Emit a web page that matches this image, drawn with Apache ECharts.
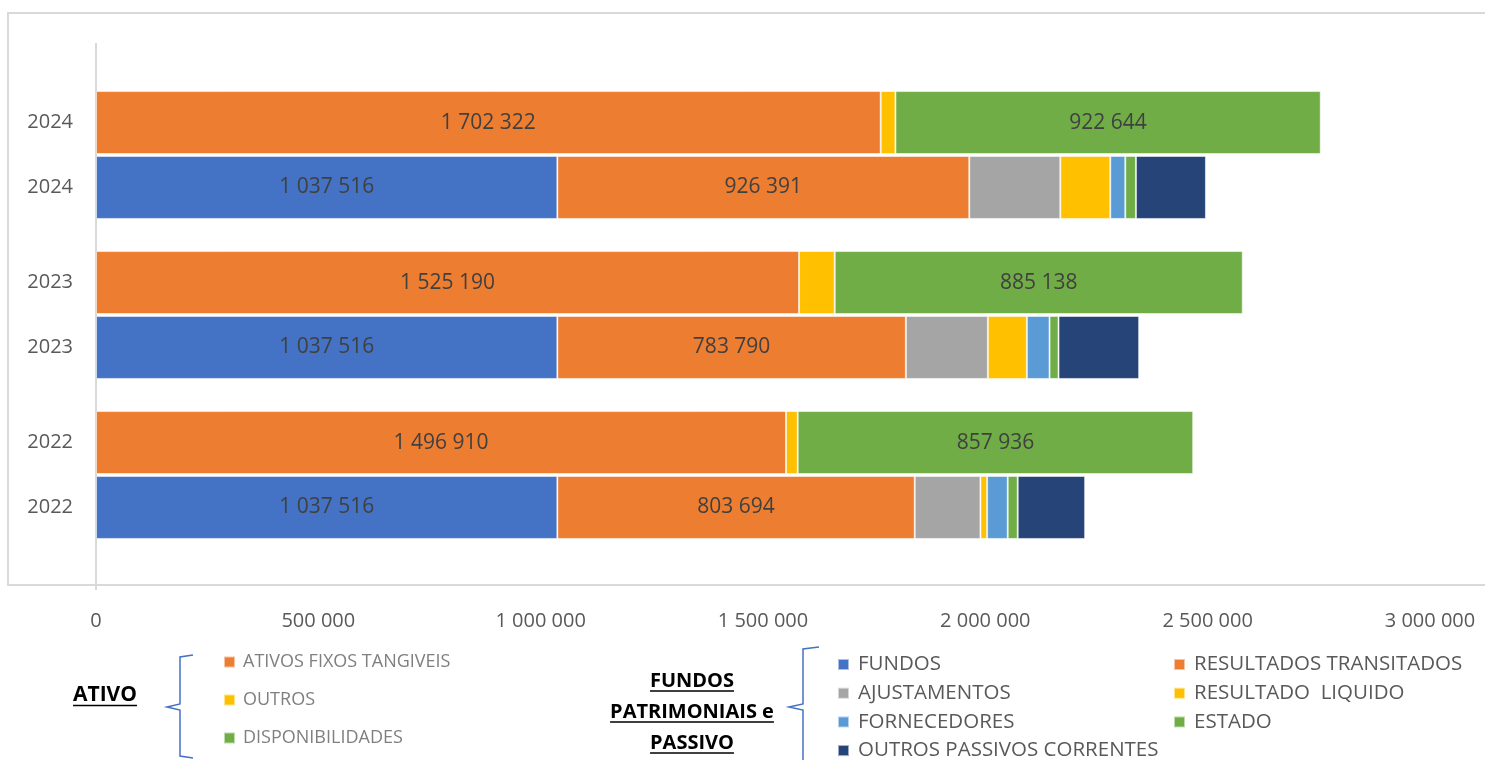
<!DOCTYPE html>
<html>
<head>
<meta charset="utf-8">
<script src="https://cdn.jsdelivr.net/npm/echarts@6/dist/echarts.min.js"></script>
<style>
  html, body { margin: 0; padding: 0; background: #ffffff; }
  #chart { width: 1485px; height: 760px; }
</style>
</head>
<body>
<div id="chart"></div>
<script>
// Years, one band per year (ATIVO bar above, FUNDOS/PASSIVO bar below)
const years = ['2024', '2023', '2022'];

// ATIVO
const ativosFixosTangiveis = [1702322, 1525190, 1496910];
const outros = [32000, 77400, 25400];
const disponibilidades = [922644, 885138, 857936];

// FUNDOS PATRIMONIAIS e PASSIVO
const fundos = [1037516, 1037516, 1037516];
const resultadosTransitados = [926391, 783790, 803694];
const ajustamentos = [204700, 184400, 147800];
const resultadoLiquido = [112400, 87700, 15000];
const fornecedores = [33700, 51000, 46300];
const estado = [24000, 20200, 22500];
const outrosPassivosCorrentes = [157400, 181300, 151600];

// Value axis range (primary) and the hidden secondary axis used by ATIVO
const axisMin = 0;
const axisMax = 3000000;
const axisStep = 500000;
const secondaryMax = 2894000;

const FONT = '"Open Sans", "DejaVu Sans", sans-serif';
const COLORS = {
  blue: '#4472C4', orange: '#ED7D31', grey: '#A5A5A5', yellow: '#FFC000',
  lightBlue: '#5B9BD5', green: '#70AD47', navy: '#264478'
};

function fmt(v) {
  return String(Math.round(v)).replace(/\B(?=(\d{3})+(?!\d))/g, ' ');
}

function barSeries(name, data, color, stack, xAxisIndex, withLabel) {
  return {
    name: name,
    type: 'bar',
    stack: stack,
    xAxisIndex: xAxisIndex,
    yAxisIndex: 0,
    data: data,
    barWidth: 63,
    barGap: '3%',
    itemStyle: { color: color, borderColor: 'rgba(255,255,255,0.55)', borderWidth: 1 },
    label: withLabel ? {
      show: true, position: 'inside', color: '#404040', fontSize: 21,
      fontFamily: FONT, formatter: p => fmt(p.value)
    } : { show: false },
    emphasis: { disabled: true },
    animation: false
  };
}

const series = [
  barSeries('ATIVOS FIXOS TANGIVEIS', ativosFixosTangiveis, COLORS.orange, 'ativo', 1, true),
  barSeries('OUTROS', outros, COLORS.yellow, 'ativo', 1, false),
  barSeries('DISPONIBILIDADES', disponibilidades, COLORS.green, 'ativo', 1, true),
  barSeries('FUNDOS', fundos, COLORS.blue, 'passivo', 0, true),
  barSeries('RESULTADOS TRANSITADOS', resultadosTransitados, COLORS.orange, 'passivo', 0, true),
  barSeries('AJUSTAMENTOS', ajustamentos, COLORS.grey, 'passivo', 0, false),
  barSeries('RESULTADO  LIQUIDO', resultadoLiquido, COLORS.yellow, 'passivo', 0, false),
  barSeries('FORNECEDORES', fornecedores, COLORS.lightBlue, 'passivo', 0, false),
  barSeries('ESTADO', estado, COLORS.green, 'passivo', 0, false),
  barSeries('OUTROS PASSIVOS CORRENTES', outrosPassivosCorrentes, COLORS.navy, 'passivo', 0, false)
];

// text width helper for the underlines of the bold captions
const measureCtx = document.createElement('canvas').getContext('2d');
function textWidth(txt, font) { measureCtx.font = font; return measureCtx.measureText(txt).width; }

function underlinedCaption(lines, cx, firstY, lineStep, size) {
  const font = 'bold ' + size + 'px ' + FONT;
  const els = [];
  lines.forEach((t, i) => {
    const y = firstY + i * lineStep;
    const w = textWidth(t, font);
    els.push({
      type: 'text', x: cx, y: y,
      style: { text: t, font: font, fill: '#000000', align: 'center', verticalAlign: 'middle' }
    });
    els.push({
      type: 'line', shape: { x1: cx - w / 2, y1: y + size * 0.5, x2: cx + w / 2, y2: y + size * 0.5 },
      style: { stroke: '#000000', lineWidth: 1.6 }
    });
  });
  return els;
}

function brace(x, top, tipY, bottom, tipX, hook) {
  return {
    type: 'polyline',
    shape: { points: [[x + hook, top], [x, top + 2], [x, tipY - 3], [tipX, tipY], [x, tipY + 3], [x, bottom - 2], [x + hook, bottom]] },
    style: { stroke: '#4472C4', lineWidth: 1.5, fill: null }
  };
}

const legendBase = {
  orient: 'vertical', icon: 'rect', itemWidth: 11, itemHeight: 11,
  selectedMode: false, padding: 0, height: 160
};

const option = {
  backgroundColor: '#ffffff',
  animation: false,
  grid: { left: 96, right: 55, top: 75, height: 480, containLabel: false },
  xAxis: [
    {
      type: 'value', min: axisMin, max: axisMax, interval: axisStep,
      axisLine: { show: false }, axisTick: { show: false }, splitLine: { show: false },
      axisLabel: { margin: 56, color: '#595959', fontSize: 20, fontFamily: FONT, formatter: v => fmt(v) }
    },
    {
      type: 'value', min: 0, max: secondaryMax, show: false, position: 'top'
    }
  ],
  yAxis: [{
    type: 'category', data: years, inverse: true,
    axisLine: { show: false }, axisTick: { show: false }, splitLine: { show: false },
    axisLabel: {
      margin: 23,
      formatter: v => '{y|' + v + '}\n{y|' + v + '}',
      rich: { y: { color: '#595959', fontSize: 20, fontFamily: FONT, lineHeight: 65, align: 'right' } }
    }
  }],
  legend: [
    Object.assign({}, legendBase, {
      data: ['ATIVOS FIXOS TANGIVEIS', 'OUTROS', 'DISPONIBILIDADES'],
      left: 223, top: 652, itemGap: 18,
      textStyle: { color: '#7f7f7f', fontSize: 18, fontFamily: FONT, lineHeight: 20, padding: [0, 0, 0, 3] }
    }),
    Object.assign({}, legendBase, {
      data: ['FUNDOS', 'AJUSTAMENTOS', 'FORNECEDORES', 'OUTROS PASSIVOS CORRENTES'],
      left: 837, top: 654, itemGap: 7.7,
      textStyle: { color: '#595959', fontSize: 20.5, fontFamily: FONT, lineHeight: 20, padding: [0, 0, 0, 4] }
    }),
    Object.assign({}, legendBase, {
      data: ['RESULTADOS TRANSITADOS', 'RESULTADO  LIQUIDO', 'ESTADO'],
      left: 1173, top: 654, itemGap: 7.7,
      textStyle: { color: '#595959', fontSize: 20.5, fontFamily: FONT, lineHeight: 20, padding: [0, 0, 0, 4] }
    })
  ],
  graphic: [
    // plot-area frame
    { type: 'rect', silent: true, z: -1, shape: { x: 8, y: 13, width: 1485, height: 572 },
      style: { fill: null, stroke: '#d9d9d9', lineWidth: 2 } },
    // category axis line
    { type: 'line', silent: true, shape: { x1: 96, y1: 43, x2: 96, y2: 590 },
      style: { stroke: '#d9d9d9', lineWidth: 2 } },
    brace(180, 655, 707, 758, 167, 13),
    brace(803, 647, 707, 770, 789, 16)
  ].concat(
    underlinedCaption(['ATIVO'], 105, 695, 31, 21),
    underlinedCaption(['FUNDOS', 'PATRIMONIAIS e', 'PASSIVO'], 692, 681, 31, 20)
  ),
  series: series
};

const chart = echarts.init(document.getElementById('chart'), null, { renderer: 'canvas' });
chart.setOption(option);
</script>
</body>
</html>
